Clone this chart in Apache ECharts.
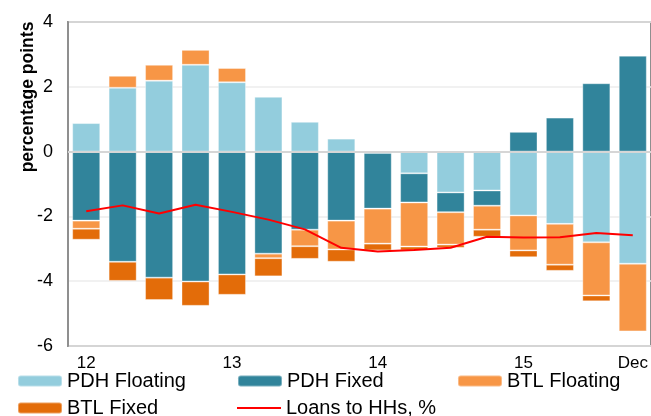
<!DOCTYPE html>
<html>
<head>
<meta charset="utf-8">
<script src="https://cdn.jsdelivr.net/npm/echarts@6/dist/echarts.min.js"></script>
<style>
  html, body { margin: 0; padding: 0; background: #fff; }
  #chart { width: 651px; height: 416px; }
</style>
</head>
<body>
<div id="chart"></div>
<script>
// quarterly categories, only some labelled
const categories = ['12', '', '', '', '13', '', '', '', '14', '', '', '', '15', '', '', 'Dec']

// contributions, percentage points
const pdhFloating = [0.88, 1.97, 2.19, 2.68, 2.14, 1.69, 0.92, 0.40, -0.04, -0.67, -1.26, -1.20, -1.97, -2.23, -2.80, -3.46]
const pdhFixed = [-2.13, -3.40, -3.89, -4.01, -3.79, -3.15, -2.41, -2.13, -1.72, -0.90, -0.61, -0.47, 0.61, 1.05, 2.11, 2.96]
const btlFloating = [-0.25, 0.37, 0.49, 0.46, 0.44, -0.14, -0.51, -0.89, -1.08, -1.36, -1.00, -0.74, -1.08, -1.26, -1.64, -2.09]
const btlFixed = [-0.34, -0.59, -0.69, -0.75, -0.63, -0.56, -0.39, -0.38, -0.21, -0.12, -0.10, -0.22, -0.21, -0.19, -0.18, 0]
const loansToHHs = [-1.84, -1.66, -1.91, -1.64, -1.86, -2.10, -2.40, -2.97, -3.08, -3.04, -2.97, -2.63, -2.65, -2.64, -2.51, -2.58]

const font = '"Liberation Sans", Arial, sans-serif'

const chart = echarts.init(document.getElementById('chart'))

function legendAt(name, left, top, extra) {
  return Object.assign({
    data: [name],
    left: left,
    top: top,
    padding: 0,
    itemWidth: 44,
    itemHeight: 11,
    selectedMode: false,
    textStyle: { fontFamily: font, fontSize: 20, color: '#000' }
  }, extra || {})
}

function barSeries(name, data, color) {
  return {
    name: name,
    type: 'bar',
    stack: 'total',
    barCategoryGap: '23%',
    data: data,
    itemStyle: {
      color: color,
      borderColor: 'rgba(255, 255, 255, 0.35)',
      borderWidth: 1
    }
  }
}

chart.setOption({
  animation: false,
  backgroundColor: '#fff',
  textStyle: { fontFamily: font },
  legend: [
    legendAt('PDH Floating', 17, 371),
    legendAt('PDH Fixed', 237, 371),
    legendAt('BTL Floating', 457, 371),
    legendAt('BTL Fixed', 17, 398),
    // plain red stroke instead of line + dot
    legendAt('Loans to HHs, %', 237, 398, {
      icon: 'rect',
      itemHeight: 2,
      itemStyle: { color: '#ff0000' },
      lineStyle: { width: 0 }
    })
  ],
  grid: {
    left: 68,
    top: 22,
    right: -2,
    bottom: 70,
    show: true,
    borderColor: '#8f8f8f',
    borderWidth: 2
  },
  graphic: [
    {
      type: 'text',
      x: 28,
      y: 97,
      rotation: Math.PI / 2,
      style: {
        text: 'percentage points',
        fontFamily: font,
        fontSize: 17.5,
        fontWeight: 'bold',
        fill: '#000',
        align: 'center',
        verticalAlign: 'middle'
      }
    }
  ],
  xAxis: {
    type: 'category',
    data: categories,
    axisTick: { show: false },
    axisLine: { lineStyle: { color: '#8f8f8f', width: 2 } },
    axisLabel: {
      interval: 0,
      margin: 9,
      fontSize: 17,
      color: '#000'
    }
  },
  yAxis: {
    type: 'value',
    min: -6,
    max: 4,
    interval: 2,
    axisLine: { show: true, lineStyle: { color: '#8f8f8f', width: 2 } },
    axisTick: { show: false },
    splitLine: { lineStyle: { color: '#ececec', width: 1.5 } },
    axisLabel: {
      margin: 15,
      fontSize: 18,
      color: '#000'
    }
  },
  series: [
    barSeries('PDH Floating', pdhFloating, '#93cddd'),
    barSeries('PDH Fixed', pdhFixed, '#31849b'),
    barSeries('BTL Floating', btlFloating, '#f79646'),
    barSeries('BTL Fixed', btlFixed, '#e36c09'),
    {
      name: 'Loans to HHs, %',
      type: 'line',
      data: loansToHHs,
      symbol: 'none',
      z: 5,
      lineStyle: { color: '#ff0000', width: 2 },
      itemStyle: { color: '#ff0000' },
      // zero line sits over the bars
      markLine: {
        silent: true,
        symbol: 'none',
        label: { show: false },
        lineStyle: { color: '#d6d6d6', width: 2, type: 'solid' },
        data: [{ yAxis: 0 }]
      }
    }
  ]
})
</script>
</body>
</html>
